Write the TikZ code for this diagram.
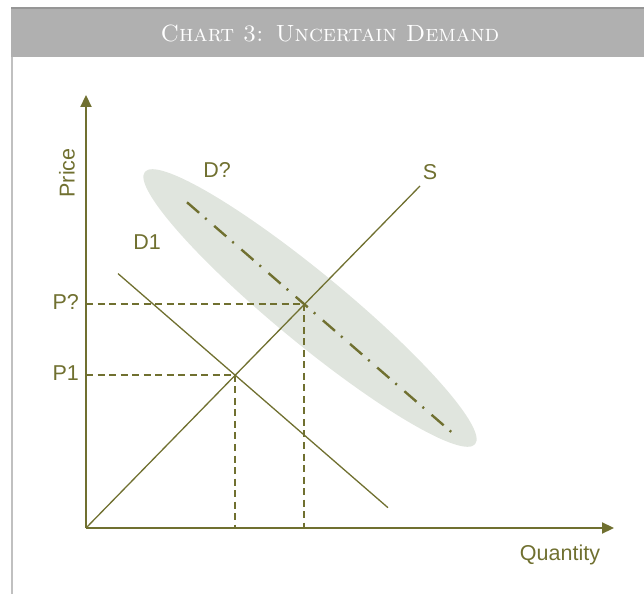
\documentclass[tikz,border=0pt]{standalone}
\usepackage{fontspec}
\newfontfamily\arialfont{Liberation Sans}
\usetikzlibrary{arrows.meta}
\definecolor{olive}{RGB}{112,112,48}
\definecolor{bandfill}{RGB}{224,229,222}
\definecolor{headgray}{RGB}{176,176,176}
\definecolor{headtop}{RGB}{150,150,150}
\definecolor{bordergray}{RGB}{192,192,192}
\tikzset{
  axisline/.style={draw=olive, line width=2.2pt, -{Triangle[length=12pt,width=11pt]}},
  curveline/.style={draw=olive, line width=1.3pt},
  guideline/.style={draw=olive, line width=1.5pt, dash pattern=on 7pt off 4.5pt},
  uncertainline/.style={draw=olive, line width=2.4pt, dash pattern=on 16pt off 8pt on 2pt off 10pt},
  lbl/.style={text=olive, font=\arialfont\fontsize{21.5}{25}\selectfont, inner sep=0pt},
  title/.style={text=white, font=\fontsize{23.5}{27}\selectfont, inner sep=0pt}
}
\begin{document}
\begin{tikzpicture}[x=1pt,y=1pt]
\useasboundingbox (0,0) rectangle (644,594);
% frame
\fill[headgray] (11,537) rectangle (644,586);
\draw[headtop, line width=1.2pt] (11,586) -- (644,586);
\draw[bordergray, line width=1.8pt] (12,0) -- (12,537);
\node[title] (ttl) at (330,561) {\textsc{Chart 3: Uncertain Demand}};
% band
\fill[bandfill, rotate around={-39.5:(310,286)}] (310,286) ellipse [x radius=214, y radius=35];
% points
\coordinate (O) at (86,66);
\coordinate (ytip) at (86,499);
\coordinate (xtip) at (614,66);
\coordinate (Send) at (420,408);
\coordinate (D1a) at (118,320.4);
\coordinate (D1b) at (388,86.3);
\coordinate (Dqa) at (187,391.7);
\coordinate (Dqb) at (454,159.7);
\coordinate (P1) at (235,219);
\coordinate (Pq) at (304,290);
\coordinate (P1y) at (86,219);
\coordinate (Pqy) at (86,290);
\coordinate (P1x) at (235,66);
\coordinate (Pqx) at (304,66);
% guides
\draw[guideline] (P1y) -- (P1);
\draw[guideline] (Pqy) -- (Pq);
\draw[guideline] (P1) -- (P1x);
\draw[guideline] (Pq) -- (Pqx);
% curves
\draw[curveline] (O) -- (Send);
\draw[curveline] (D1a) -- (D1b);
\draw[uncertainline] (Dqa) -- (Dqb);
% axes
\draw[axisline] (O) -- (ytip);
\draw[axisline] (O) -- (xtip);
% labels
\node[lbl, rotate=90] (price) at (67,421) {Price};
\node[lbl] (qty) at (560,39) {Quantity};
\node[lbl] (S) at (430,422) {S};
\node[lbl] (D1) at (147,352) {D1};
\node[lbl] (Dq) at (217,424) {D?};
\node[lbl, anchor=east] (Pql) at (79,292) {P?};
\node[lbl, anchor=east] (P1l) at (79,221) {P1};
\end{tikzpicture}
\end{document}
